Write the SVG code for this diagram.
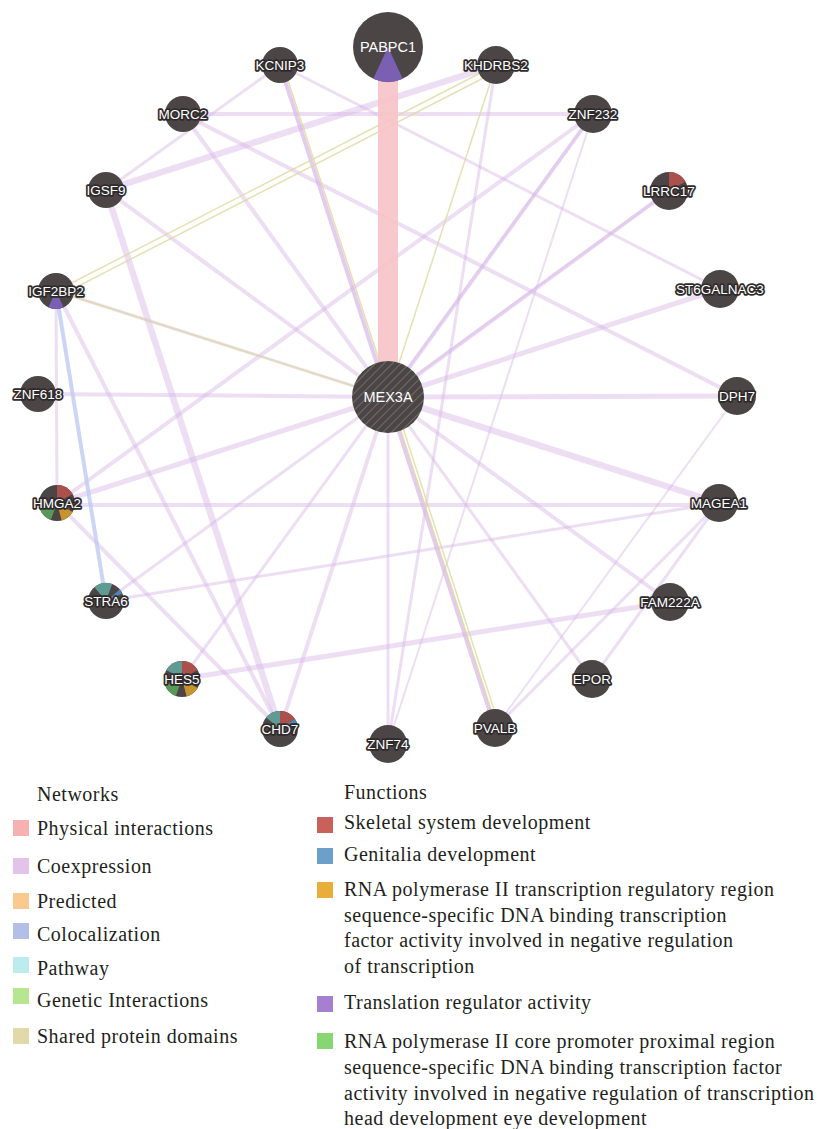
<svg xmlns="http://www.w3.org/2000/svg" width="818" height="1129" viewBox="0 0 818 1129">
<style>
.co{stroke:#d6b5e6;stroke-opacity:0.45;fill:none}
.w2{stroke-width:2}.w3{stroke-width:3}.w4{stroke-width:4}.w5{stroke-width:5}.w6{stroke-width:6.5}
.sd{stroke:#ddd9a0;stroke-opacity:0.8;stroke-width:1.5;fill:none}
.cl{stroke:#bfcbf0;stroke-opacity:0.8;stroke-width:4;fill:none}
.pi{stroke:#f7c3c6;stroke-opacity:0.9;stroke-width:20;fill:none}
.node{fill:#4b4546}
.lbl{font-family:"Liberation Sans",Arial,Helvetica,sans-serif;font-size:13.5px;fill:#ffffff;stroke:#2f2b2c;stroke-width:3.5;stroke-linejoin:round;paint-order:stroke;text-anchor:middle}
.big{font-size:14.5px;stroke:none}
.leg{font-family:"Liberation Serif","Times New Roman",serif;font-size:20px;letter-spacing:0.5px;fill:#231f20}
.red{fill:#ab504d}.teal{fill:#5f9a93}.grn{fill:#58995a}.org{fill:#c6942e}.blu{fill:#4f86b3}.pur{fill:#7a5fb3}
</style>
<defs>
<pattern id="hatch" patternUnits="userSpaceOnUse" width="6" height="6" patternTransform="rotate(45)">
<rect width="6" height="6" fill="#4b4546"/>
<line x1="0" y1="0" x2="0" y2="6" stroke="#7a7576" stroke-width="1.6"/>
</pattern>
</defs>

<g id="connectors">
<line class="co w4" x1="183" y1="114" x2="593" y2="114"/>
<line class="co w3" x1="280" y1="65" x2="106" y2="190"/>
<line class="co w6" x1="106" y1="190" x2="496" y2="65"/>
<line class="co w4" x1="183" y1="114" x2="388" y2="397"/>
<line class="co w4" x1="183" y1="114" x2="737" y2="396"/>
<line class="co w4" x1="280" y1="65" x2="388" y2="397"/>
<line class="co w4" x1="280" y1="65" x2="495" y2="728"/>
<line class="co w3" x1="280" y1="65" x2="720" y2="289"/>
<line class="co w4" x1="106" y1="190" x2="388" y2="397"/>
<line class="co w6" x1="106" y1="190" x2="280" y2="729"/>
<line class="co w3" x1="56" y1="291" x2="388" y2="397"/>
<line class="co w3" x1="56" y1="291" x2="57" y2="503"/>
<line class="co w4" x1="56" y1="291" x2="280" y2="729"/>
<line class="co w4" x1="38" y1="394" x2="388" y2="397"/>
<line class="co w4" x1="593" y1="114" x2="57" y2="503"/>
<line class="co w4" x1="593" y1="114" x2="388" y2="397"/>
<line class="co w3" x1="593" y1="114" x2="182" y2="679"/>
<line class="co w2" x1="593" y1="114" x2="388" y2="744"/>
<line class="co w4" x1="669" y1="191" x2="388" y2="397"/>
<line class="co w3" x1="669" y1="191" x2="106" y2="601"/>
<line class="co w5" x1="720" y1="289" x2="388" y2="397"/>
<line class="co w5" x1="388" y1="397" x2="737" y2="396"/>
<line class="co w6" x1="388" y1="397" x2="719" y2="503"/>
<line class="co w4" x1="57" y1="505" x2="719" y2="505"/>
<line class="co w3" x1="106" y1="601" x2="719" y2="503"/>
<line class="co w5" x1="182" y1="679" x2="670" y2="602"/>
<line class="co w4" x1="388" y1="397" x2="670" y2="602"/>
<line class="co w3" x1="388" y1="397" x2="592" y2="679"/>
<line class="co w4" x1="388" y1="397" x2="495" y2="728"/>
<line class="co w3" x1="388" y1="397" x2="388" y2="744"/>
<line class="co w4" x1="388" y1="397" x2="280" y2="729"/>
<line class="co w5" x1="388" y1="397" x2="57" y2="503"/>
<line class="co w2" x1="737" y1="396" x2="495" y2="728"/>
<line class="co w3" x1="719" y1="503" x2="592" y2="679"/>
<line class="co w3" x1="719" y1="503" x2="495" y2="728"/>
<line class="co w4" x1="57" y1="503" x2="280" y2="729"/>
<line class="co w3" x1="496" y1="65" x2="388" y2="744"/>
<line class="cl" x1="56" y1="291" x2="106" y2="601"/>
<line class="sd" x1="56" y1="291" x2="496" y2="65"/>
<line class="sd" x1="59" y1="296" x2="499" y2="70"/>
<line class="sd" x1="56" y1="291" x2="388" y2="397"/>
<line class="sd" x1="496" y1="65" x2="388" y2="397"/>
<line class="sd" x1="283" y1="65" x2="391" y2="397"/>
<line class="sd" x1="390" y1="397" x2="497" y2="728"/>
<line class="sd" x1="393" y1="397" x2="500" y2="728"/>
<line class="pi" x1="388" y1="47" x2="388" y2="397"/>
</g>

<g id="node-PABPC1"><circle class="node" cx="388" cy="47" r="35"/><path class="pur" d="M388 47 L402.79 78.72 A35 35 0 0 1 373.21 78.72 Z"/><text class="lbl big" x="388" y="52">PABPC1</text></g>
<g id="node-KCNIP3"><circle class="node" cx="280" cy="65" r="18"/><text class="lbl" x="280" y="70">KCNIP3</text></g>
<g id="node-KHDRBS2"><circle class="node" cx="496" cy="65" r="19"/><text class="lbl" x="496" y="70">KHDRBS2</text></g>
<g id="node-MORC2"><circle class="node" cx="183" cy="114" r="18"/><text class="lbl" x="183" y="119">MORC2</text></g>
<g id="node-ZNF232"><circle class="node" cx="593" cy="114" r="19"/><text class="lbl" x="593" y="119">ZNF232</text></g>
<g id="node-IGSF9"><circle class="node" cx="106" cy="190" r="18"/><text class="lbl" x="106" y="195">IGSF9</text></g>
<g id="node-LRRC17"><circle class="node" cx="669" cy="191" r="19"/><path class="red" d="M669 191 L669 172 A19 19 0 0 1 685.45 181.5 Z"/><text class="lbl" x="669" y="196">LRRC17</text></g>
<g id="node-IGF2BP2"><circle class="node" cx="56" cy="291" r="18"/><path class="pur" d="M56 291 L63.61 307.31 A18 18 0 0 1 48.39 307.31 Z"/><text class="lbl" x="56" y="296">IGF2BP2</text></g>
<g id="node-ST6GALNAC3"><circle class="node" cx="720" cy="289" r="19"/><text class="lbl" x="720" y="294">ST6GALNAC3</text></g>
<g id="node-ZNF618"><circle class="node" cx="38" cy="394" r="18"/><text class="lbl" x="38" y="399">ZNF618</text></g>
<g id="node-MEX3A"><circle cx="388" cy="397" r="36" fill="url(#hatch)"/><text class="lbl big" x="388" y="402">MEX3A</text></g>
<g id="node-DPH7"><circle class="node" cx="737" cy="396" r="19"/><text class="lbl" x="737" y="401">DPH7</text></g>
<g id="node-HMGA2"><circle class="node" cx="57" cy="503" r="18"/><path class="red" d="M57 503 L57 485 A18 18 0 0 1 72.59 494 Z"/><path class="org" d="M57 503 L72.59 512 A18 18 0 0 1 61.66 520.39 Z"/><path class="grn" d="M57 503 L50.84 519.91 A18 18 0 0 1 40.09 509.16 Z"/><text class="lbl" x="57" y="508">HMGA2</text></g>
<g id="node-MAGEA1"><circle class="node" cx="719" cy="503" r="19"/><text class="lbl" x="719" y="508">MAGEA1</text></g>
<g id="node-STRA6"><circle class="node" cx="106" cy="601" r="18"/><path class="teal" d="M106 601 L94.43 587.21 A18 18 0 0 1 112.16 584.09 Z"/><path class="blu" d="M106 601 L119.79 589.43 A18 18 0 0 1 122.31 593.39 Z"/><text class="lbl" x="106" y="606">STRA6</text></g>
<g id="node-FAM222A"><circle class="node" cx="670" cy="602" r="19"/><text class="lbl" x="670" y="607">FAM222A</text></g>
<g id="node-HES5"><circle class="node" cx="182" cy="679" r="18"/><path class="teal" d="M182 679 L166.41 670 A18 18 0 0 1 182 661 Z"/><path class="red" d="M182 679 L182 661 A18 18 0 0 1 197.59 670 Z"/><path class="org" d="M182 679 L197.59 688 A18 18 0 0 1 186.66 696.39 Z"/><path class="grn" d="M182 679 L175.84 695.91 A18 18 0 0 1 165.09 685.16 Z"/><text class="lbl" x="182" y="684">HES5</text></g>
<g id="node-EPOR"><circle class="node" cx="592" cy="679" r="19"/><text class="lbl" x="592" y="684">EPOR</text></g>
<g id="node-CHD7"><circle class="node" cx="280" cy="729" r="18"/><path class="teal" d="M280 729 L266.21 717.43 A18 18 0 0 1 280 711 Z"/><path class="red" d="M280 729 L280 711 A18 18 0 0 1 294.74 718.68 Z"/><path class="blu" d="M280 729 L294.74 718.68 A18 18 0 0 1 296.91 722.84 Z"/><text class="lbl" x="280" y="734">CHD7</text></g>
<g id="node-ZNF74"><circle class="node" cx="388" cy="744" r="19"/><text class="lbl" x="388" y="749">ZNF74</text></g>
<g id="node-PVALB"><circle class="node" cx="495" cy="728" r="19"/><text class="lbl" x="495" y="733">PVALB</text></g>

<g id="legend-networks">
<text class="leg" x="37" y="801">Networks</text>
<rect x="13" y="820" width="16" height="16" fill="#f6b1b1"/><text class="leg" x="37" y="835">Physical interactions</text>
<rect x="13" y="858" width="16" height="16" fill="#e3c3ea"/><text class="leg" x="37" y="873">Coexpression</text>
<rect x="13" y="893" width="16" height="16" fill="#f9c98d"/><text class="leg" x="37" y="908">Predicted</text>
<rect x="13" y="923" width="16" height="16" fill="#b3bfe7"/><text class="leg" x="37" y="941">Colocalization</text>
<rect x="13" y="957" width="16" height="16" fill="#bdecef"/><text class="leg" x="37" y="975">Pathway</text>
<rect x="13" y="988" width="16" height="16" fill="#b7e690"/><text class="leg" x="37" y="1007">Genetic Interactions</text>
<rect x="13" y="1028" width="16" height="16" fill="#e1d9a9"/><text class="leg" x="37" y="1043">Shared protein domains</text>
</g>

<g id="legend-functions">
<text class="leg" x="344" y="799">Functions</text>
<rect x="317" y="817" width="16" height="16" fill="#c9605c"/><text class="leg" x="344" y="829">Skeletal system development</text>
<rect x="317" y="848" width="16" height="16" fill="#6d9fcb"/><text class="leg" x="344" y="861">Genitalia development</text>
<rect x="317" y="882" width="16" height="16" fill="#e9ae3a"/>
<text class="leg" x="344" y="896">RNA polymerase II transcription regulatory region</text>
<text class="leg" x="344" y="922">sequence-specific DNA binding transcription</text>
<text class="leg" x="344" y="947">factor activity involved in negative regulation</text>
<text class="leg" x="344" y="973">of transcription</text>
<rect x="317" y="996" width="16" height="16" fill="#a67fd0"/><text class="leg" x="344" y="1009">Translation regulator activity</text>
<rect x="317" y="1033" width="16" height="16" fill="#86d672"/>
<text class="leg" x="344" y="1048">RNA polymerase II core promoter proximal region</text>
<text class="leg" x="344" y="1074">sequence-specific DNA binding transcription factor</text>
<text class="leg" x="344" y="1100">activity involved in negative regulation of transcription</text>
<text class="leg" x="344" y="1125">head development eye development</text>
</g>
</svg>
